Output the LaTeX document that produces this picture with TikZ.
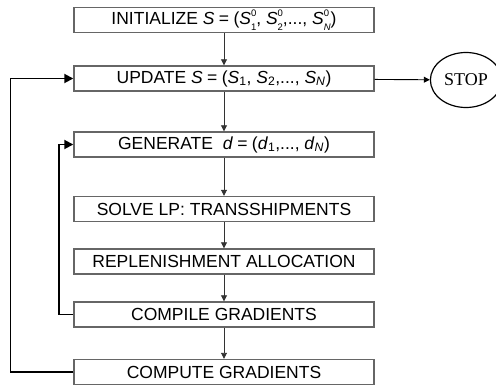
\documentclass[tikz,border=0pt]{standalone}
\usepackage{fontspec}
\setmainfont{Liberation Sans}
\newfontfamily\stopfont{Liberation Serif}
\usetikzlibrary{arrows.meta}
\usetikzlibrary{shapes.geometric}
\usetikzlibrary{positioning}
\newcommand{\idx}{\fontsize{9.5}{10}\selectfont}
\newcommand{\Svar}[2]{\textit{S}\makebox[0pt][l]{\raisebox{0.85ex}{\idx #1}}\raisebox{-0.6ex}{\idx #2}}
\newcommand{\eqs}{\hspace{0.25em}=\hspace{0.25em}}
\tikzset{
    stepbox/.style={
           rectangle,
           draw=black!60, line width=1.4pt,
           minimum width=300pt,
           minimum height=25pt,
           inner sep=0pt,
           text centered,
           font=\fontsize{17.5}{20}\selectfont,
           },
    flow/.style={-{Triangle[length=6pt,width=6pt]}, black!80, line width=0.9pt},
    back/.style={-{Triangle[length=9pt,width=9pt]}, black, line width=1.8pt},
}

\begin{document}
\begin{tikzpicture}[x=1pt,y=-1pt]
    \useasboundingbox (0,0) rectangle (496,385);
    \node[stepbox] (init)     at (224,20)    {INITIALIZE \textit{S}\eqs(\Svar{0}{1}, \Svar{0}{2},..., \Svar{0}{\textit{N}})};
    \node[stepbox] (update)   at (224,78.5)  {UPDATE \textit{S}\eqs(\textit{S}\textsubscript{1}, \textit{S}\textsubscript{2},..., \textit{S}\textsubscript{\textit{N}})};
    \node[stepbox] (generate) at (224,144.5) {GENERATE \ \textit{d}\eqs(\textit{d}\textsubscript{1},..., \textit{d}\textsubscript{\textit{N}})};
    \node[stepbox] (solve)    at (224,209)   {SOLVE LP: TRANSSHIPMENTS};
    \node[stepbox] (replen)   at (224,261.5) {REPLENISHMENT ALLOCATION};
    \node[stepbox] (compile)  at (224,314.5) {COMPILE GRADIENTS};
    \node[stepbox] (compute)  at (224,372)   {COMPUTE GRADIENTS};
    \node[ellipse,draw,line width=1.2pt,minimum width=70pt,minimum height=55pt,
          font=\stopfont\fontsize{18}{20}\selectfont] (stop) at (466,80) {STOP};
    \coordinate (outer) at (10.5,0);
    \coordinate (inner) at (59,0);
    \path[flow]
    (init) edge (update)
    (update) edge (generate)
    (generate) edge (solve)
    (solve) edge (replen)
    (replen) edge (compile)
    (compile) edge (compute);
    \draw[flow,black] (update) -- (stop);
    \draw[back] (compute.west) -- (compute.west -| outer) |- (update.west);
    \draw[back] (compile.west) -- (compile.west -| inner) |- (generate.west);
\end{tikzpicture}
\end{document}
